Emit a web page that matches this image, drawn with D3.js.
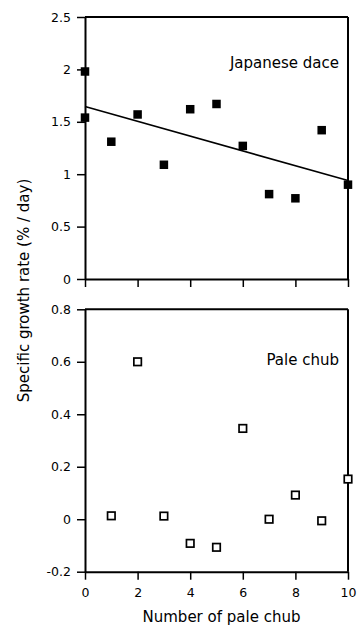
<!DOCTYPE html>
<html>
<head>
<meta charset="utf-8">
<script src="https://cdn.jsdelivr.net/npm/d3@7"></script>
<style>
  html, body { margin: 0; padding: 0; background: #fff; }
  svg { display: block; }
  text { font-family: "DejaVu Sans", Verdana, sans-serif; fill: #000; }
</style>
</head>
<body>
<svg id="chart" width="358" height="629"></svg>
<script>
// ---- data ----
const daceX = [0, 0, 1, 2, 3, 4, 5, 6, 7, 8, 9, 10];
const daceY = [1.98, 1.54, 1.31, 1.57, 1.09, 1.62, 1.67, 1.27, 0.81, 0.77, 1.42, 0.90];
const fitX = [0, 10];
const fitY = [1.645, 0.94];
const chubX = [1, 2, 3, 4, 5, 6, 7, 8, 9, 10];
const chubY = [0.013, 0.60, 0.012, -0.092, -0.107, 0.346, 0.0, 0.092, -0.006, 0.153];
const xTicks = [0, 2, 4, 6, 8, 10];
const topYTicks = [0, 0.5, 1, 1.5, 2, 2.5];
const botYTicks = [-0.2, 0, 0.2, 0.4, 0.6, 0.8];
const topLabel = "Japanese dace";
const botLabel = "Pale chub";
const xTitle = "Number of pale chub";
const yTitle = "Specific growth rate (% / day)";

// ---- layout ----
const svg = d3.select("#chart");
const left = 85, right = 348;
const x = d3.scaleLinear().domain([0, 10]).range([left, right]);
const yTop = d3.scaleLinear().domain([0, 2.5]).range([279, 17]);
const yBot = d3.scaleLinear().domain([-0.2, 0.8]).range([571.7, 309.3]);

function styleAxis(g) {
  g.select(".domain").attr("stroke", "#000").attr("stroke-width", 2);
  g.selectAll(".tick line").attr("stroke", "#000").attr("stroke-width", 1.5);
  g.selectAll(".tick text")
    .style("font-family", '"DejaVu Sans", Verdana, sans-serif')
    .style("font-size", "12.5px")
    .attr("fill", "#000");
}

function panel(y, yTicks, yFmt, showXLabels) {
  // frame top and right
  svg.append("line")
    .attr("x1", left).attr("x2", right)
    .attr("y1", y.range()[1]).attr("y2", y.range()[1])
    .attr("stroke", "#000").attr("stroke-width", 2);
  svg.append("line")
    .attr("x1", right).attr("x2", right)
    .attr("y1", y.range()[1]).attr("y2", y.range()[0])
    .attr("stroke", "#000").attr("stroke-width", 2);

  const yAxis = d3.axisLeft(y).tickValues(yTicks).tickFormat(yFmt)
    .tickSize(8).tickSizeOuter(0).tickPadding(6);
  svg.append("g").attr("transform", `translate(${left},0)`).call(yAxis).call(styleAxis);

  const xAxis = d3.axisBottom(x).tickValues(xTicks)
    .tickFormat(showXLabels ? d3.format("d") : () => "")
    .tickSize(8).tickSizeOuter(0).tickPadding(8);
  svg.append("g").attr("transform", `translate(0,${y.range()[0]})`).call(xAxis).call(styleAxis);
}

const fmtTop = d => (d === 0 ? "0" : d3.format("")(d));
const fmtBot = d => d3.format(".1f")(d).replace("0.0", "0").replace("−", "-");

panel(yTop, topYTicks, fmtTop, false);
panel(yBot, botYTicks, d => (d === 0 ? "0" : d3.format(".1f")(d).replace("−", "-")), true);

// regression line
svg.append("path")
  .datum(fitX.map((d, i) => [d, fitY[i]]))
  .attr("d", d3.line().x(d => x(d[0])).y(d => yTop(d[1])))
  .attr("fill", "none").attr("stroke", "#000").attr("stroke-width", 1.6);

// dace points (filled squares)
const sF = 8.5;
svg.append("g").selectAll("rect")
  .data(daceX.map((d, i) => [d, daceY[i]]))
  .join("rect")
  .attr("x", d => x(d[0]) - sF / 2)
  .attr("y", d => yTop(d[1]) - sF / 2)
  .attr("width", sF).attr("height", sF)
  .attr("fill", "#000");

// chub points (open squares)
const sO = 7.5;
svg.append("g").selectAll("rect")
  .data(chubX.map((d, i) => [d, chubY[i]]))
  .join("rect")
  .attr("x", d => x(d[0]) - sO / 2)
  .attr("y", d => yBot(d[1]) - sO / 2)
  .attr("width", sO).attr("height", sO)
  .attr("fill", "#fff").attr("stroke", "#000").attr("stroke-width", 1.7);

// panel labels
svg.append("text").attr("x", 339).attr("y", 68)
  .attr("text-anchor", "end").style("font-size", "15px").text(topLabel);
svg.append("text").attr("x", 339).attr("y", 365)
  .attr("text-anchor", "end").style("font-size", "15px").text(botLabel);

// axis titles
svg.append("text").attr("x", (left + right) / 2 + 5).attr("y", 622)
  .attr("text-anchor", "middle").style("font-size", "15px").text(xTitle);
svg.append("text")
  .attr("transform", "translate(29,290.5) rotate(-90)")
  .attr("text-anchor", "middle").style("font-size", "15px").text(yTitle);
</script>
</body>
</html>
